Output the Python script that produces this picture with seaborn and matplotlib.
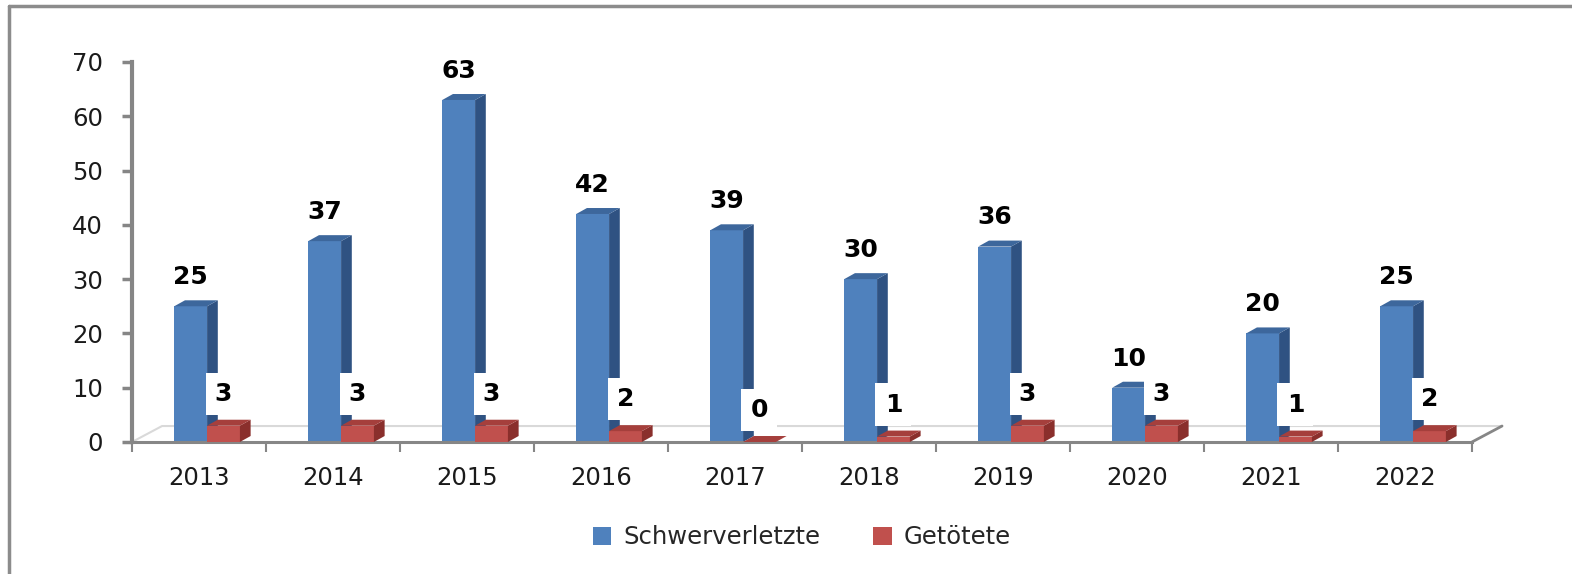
import matplotlib
matplotlib.use("Agg")
import matplotlib.pyplot as plt
from matplotlib.patches import Polygon, Patch
from matplotlib.lines import Line2D
import pandas as pd
import seaborn as sns

# data
years = ["2013", "2014", "2015", "2016", "2017", "2018", "2019", "2020", "2021", "2022"]
schwerverletzte = [25, 37, 63, 42, 39, 30, 36, 10, 20, 25]
getoetete = [3, 3, 3, 2, 0, 1, 3, 3, 1, 2]
series = ["Schwerverletzte", "Getötete"]

front = ["#4F81BD", "#C0504D"]
side = ["#2F5282", "#8A2F2C"]
top = ["#3D679C", "#A53F3C"]

df = pd.DataFrame({
    "Jahr": years * 2,
    "Anzahl": schwerverletzte + getoetete,
    "Serie": [series[0]] * len(years) + [series[1]] * len(years),
})

sns.set_style("white")
plt.rcParams["font.family"] = ["DejaVu Sans"]

fig = plt.figure(figsize=(15.72, 5.74), dpi=100)
ax = fig.add_axes([0.0840, 0.2300, 0.8524, 0.6620])

sns.barplot(data=df, x="Jahr", y="Anzahl", hue="Serie", palette=front,
            width=0.49, gap=0, saturation=1, legend=False, ax=ax)

# fake 3d depth for the bars
dx, dy = 0.08, 1.1
shift = 0.06
for i, cont in enumerate(ax.containers):
    z = 2 + i
    for p in cont.patches:
        p.set_x(p.get_x() + shift)
        p.set_linewidth(0)
        p.set_zorder(z)
        x0 = p.get_x()
        x1 = x0 + p.get_width()
        h = p.get_height()
        ax.add_patch(Polygon([(x1, 0), (x1 + dx, dy), (x1 + dx, h + dy), (x1, h)],
                             closed=True, fc=side[i], ec="none", zorder=z))
        ax.add_patch(Polygon([(x0, h), (x0 + dx, h + dy), (x1 + dx, h + dy), (x1, h)],
                             closed=True, fc=top[i], ec="none", zorder=z))

# value labels
for p, v in zip(ax.containers[0].patches, schwerverletzte):
    ax.annotate(str(v), (p.get_x() + p.get_width() / 2, p.get_height()),
                xytext=(0, 21), textcoords="offset points", ha="center", va="center",
                fontsize=18, fontweight="bold", color="black", zorder=6)
for p, v in zip(ax.containers[1].patches, getoetete):
    ax.annotate(str(v), (p.get_x() + p.get_width() / 2, p.get_height()),
                xytext=(0, 23), textcoords="offset points", ha="center", va="center",
                fontsize=18, fontweight="bold", color="black", zorder=6,
                bbox=dict(boxstyle="square,pad=0.37", fc="white", ec="none"))

ax.set_ylim(0, 70)
ax.set_xlim(-0.5, len(years) - 0.5)
ax.set_yticks(range(0, 71, 10))
ax.set_xlabel("")
ax.set_ylabel("")

axis_col = "#868686"
for s in ["top", "right"]:
    ax.spines[s].set_visible(False)
ax.spines["left"].set_color(axis_col)
ax.spines["left"].set_linewidth(3)
ax.spines["bottom"].set_color(axis_col)
ax.spines["bottom"].set_linewidth(2.2)

ax.tick_params(axis="y", which="major", left=True, length=7, width=2.5, color=axis_col,
               pad=14, labelsize=17.5, labelcolor="#1a1a1a")
ax.tick_params(axis="x", which="major", bottom=False, length=0, pad=17,
               labelsize=17.5, labelcolor="#1a1a1a")
ax.set_xticks([k + 0.5 for k in range(-1, len(years))], minor=True)
ax.tick_params(axis="x", which="minor", bottom=True, length=7, width=1.5, color=axis_col)

# floor of the 3d plot
fdx, fdy = 0.0224, 0.042
ax.plot([0, fdx, 1 + fdx], [0, fdy, fdy], transform=ax.transAxes, color="#D9D9D9",
        lw=1.5, clip_on=False, zorder=1)
ax.plot([1, 1 + fdx], [0, fdy], transform=ax.transAxes, color=axis_col,
        lw=2, clip_on=False, zorder=1)

# legend
handles = [Patch(fc=front[0], ec="none"), Patch(fc=front[1], ec="none")]
fig.legend(handles, series, loc="center", bbox_to_anchor=(0.51, 0.064), ncol=2,
           frameon=False, fontsize=17.5, handlelength=0.75, handleheight=0.75,
           handletextpad=0.5, columnspacing=2.2)

# outer frame (top and left edge)
fig.add_artist(Line2D([0.006, 0.006], [0, 0.99], transform=fig.transFigure,
                      color="#8C8C8C", lw=2.5))
fig.add_artist(Line2D([0.006, 1], [0.99, 0.99], transform=fig.transFigure,
                      color="#8C8C8C", lw=2.5))

fig.savefig("out.png", dpi=100)
